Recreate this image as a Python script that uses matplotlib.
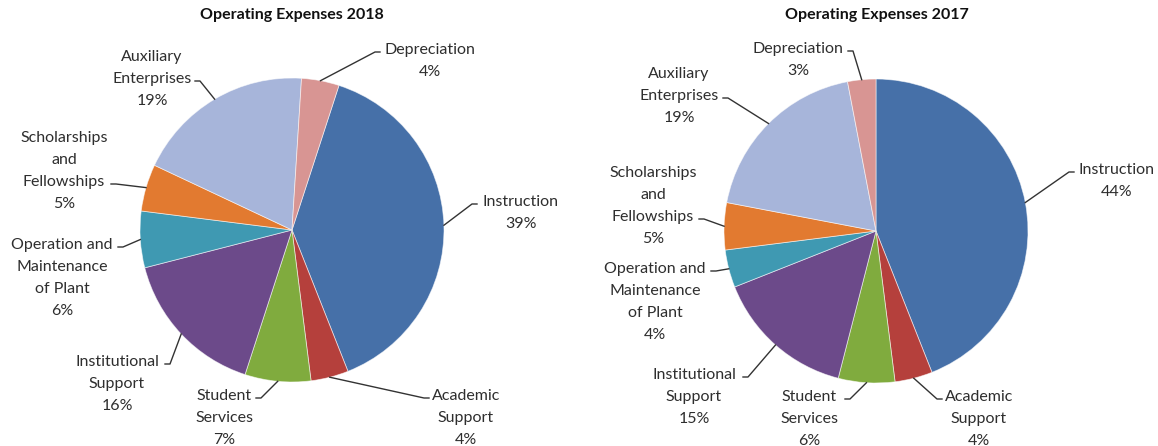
import numpy as np
import matplotlib
matplotlib.use("Agg")
from matplotlib import pyplot as plt

# ---------------------------------------------------------------
# data
# ---------------------------------------------------------------
categories = ["Instruction", "Academic Support", "Student Services",
              "Institutional Support", "Operation and Maintenance of Plant",
              "Scholarships and Fellowships", "Auxiliary Enterprises",
              "Depreciation"]
pct_2018 = [39, 4, 7, 16, 6, 5, 19, 4]
pct_2017 = [44, 4, 6, 15, 4, 5, 19, 3]

# how each label breaks over lines in the original
label_lines = [["Instruction"], ["Academic", "Support"], ["Student", "Services"],
               ["Institutional", "Support"], ["Operation and", "Maintenance", "of Plant"],
               ["Scholarships", "and", "Fellowships"], ["Auxiliary", "Enterprises"],
               ["Depreciation"]]
# which line the leader line hooks onto
hook_line = [0, 0, 0, 0, 0, 2, 1, 0]

slice_colors = ["#4670a8", "#b5403c", "#80ab3e", "#6c4a8a",
                "#3f99b2", "#e27a30", "#a7b5da", "#d89593"]

# ---------------------------------------------------------------
# layout (pixel coords, y measured from top)
# ---------------------------------------------------------------
W, H = 1158, 446
font_size = 11.5
line_gap = 22
text_col = "#2e2e2e"

# label block: centre x, first line y, hook x (end of hooked text line)
layout_2018 = [(521, 202, 478), (466, 396, 430), (224, 396, 255), (117, 362, 164),
               (62, 245, 117), (64, 138, 110), (152, 57, 194), (430, 50, 381)]
layout_2017 = [(1117, 170, 1075), (979, 397, 943), (809, 397, 844), (694, 375, 742),
               (655, 269, 710), (653, 173, 698), (679, 74, 722), (798, 49, 847)]

charts = [
    dict(title="Operating Expenses 2018", values=pct_2018, center=(292, 230),
         radius=152, start=72, layout=layout_2018, title_x=292),
    dict(title="Operating Expenses 2017", values=pct_2017, center=(876, 231),
         radius=152, start=90, layout=layout_2017, title_x=877),
]

plt.rcParams['font.family'] = ['Lato', 'DejaVu Sans']

fig = plt.figure(figsize=(W / 100, H / 100), dpi=100)
ax = fig.add_axes([0, 0, 1, 1])


def Y(y):
    return H - y


for ch in charts:
    cx, cy = ch["center"]
    wedges, _ = ax.pie(ch["values"], colors=slice_colors, startangle=ch["start"],
                       counterclock=False, center=(cx, Y(cy)), radius=ch["radius"],
                       wedgeprops=dict(edgecolor=(1, 1, 1, 0.6), linewidth=0.6))
    ax.text(ch["title_x"], Y(15), ch["title"], ha="center", va="center",
            fontsize=11.5, fontweight="bold", color="#111111")

    for i, w in enumerate(wedges):
        tx, ty, hx = ch["layout"][i]
        lines = label_lines[i] + ["%d%%" % ch["values"][i]]
        for k, s in enumerate(lines):
            ax.text(tx, Y(ty + k * line_gap), s, ha="center", va="center",
                    fontsize=font_size, color=text_col)

        # leader line: pie edge -> knee -> short hook to text
        mid = np.deg2rad((w.theta1 + w.theta2) / 2)
        ex = cx + ch["radius"] * np.cos(mid)
        ey = Y(cy) + ch["radius"] * np.sin(mid)
        hy = Y(ty + hook_line[i] * line_gap + 2)
        side = 1 if hx > tx else -1
        kx = hx + side * 6
        ax.plot([ex, kx, hx + side * 1], [ey, hy, hy], color="#333333", lw=1)

ax.set_xlim(0, W)
ax.set_ylim(0, H)
ax.set_aspect("auto")
ax.axis("off")

fig.savefig("out.png", dpi=100, facecolor="white")
